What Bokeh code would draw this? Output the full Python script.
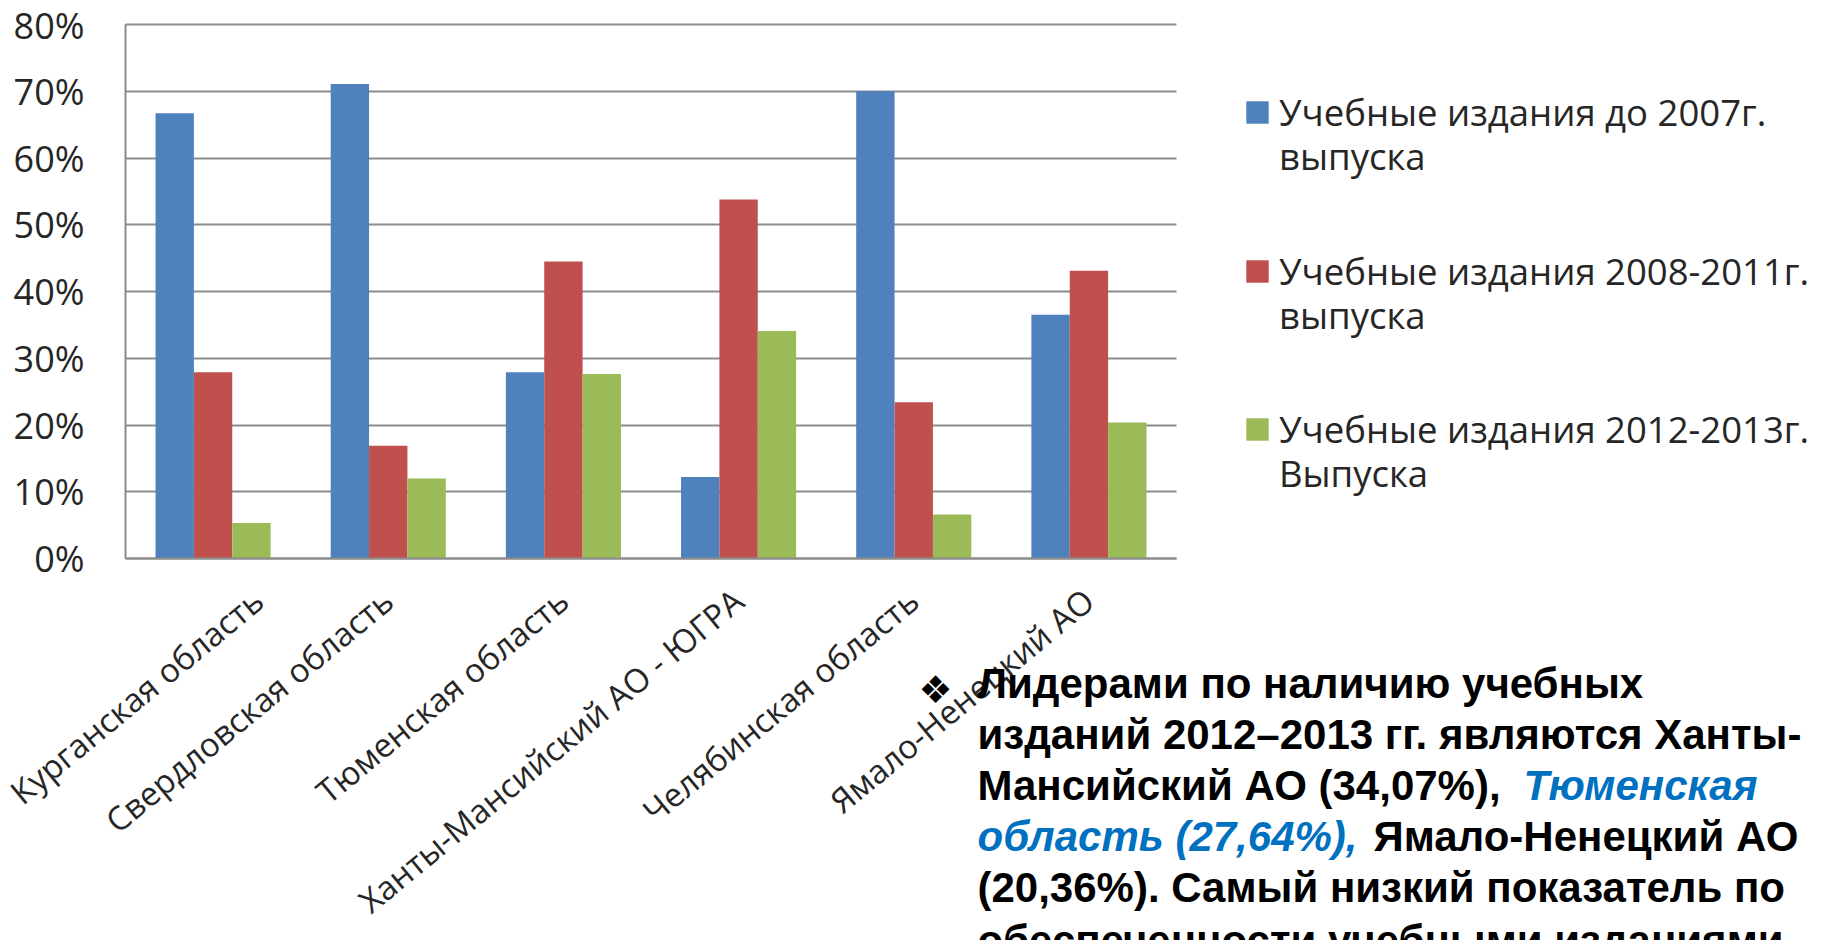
import numpy as np
from bokeh.plotting import figure
from bokeh.models import (Range1d, Legend, LegendItem, Label, FixedTicker,
                          PrintfTickFormatter, LinearAxis, Grid)
from bokeh.embed import file_html
from bokeh.resources import INLINE

# ---------------- data ----------------
regions = ["Курганская область", "Свердловская область", "Тюменская область",
           "Ханты-Мансийский АО - ЮГРА", "Челябинская область", "Ямало-Ненецкий АО"]
before_2007 = [66.7, 71.1, 27.9, 12.2, 70.0, 36.5]
years_2008_2011 = [27.9, 16.9, 44.5, 53.8, 23.4, 43.1]
years_2012_2013 = [5.3, 12.0, 27.64, 34.07, 6.6, 20.36]
series_first_line = ["Учебные издания до 2007г.",
                     "Учебные издания 2008-2011г.",
                     "Учебные издания 2012-2013г."]
series_second_line = ["выпуска", "выпуска", "Выпуска"]
y_ticks = [0, 10, 20, 30, 40, 50, 60, 70, 80]

# ---------------- styles / layout ----------------
colors = ["#4F81BD", "#C0504D", "#9BBB59"]
GRID = "#8C8C8C"
TXT = "#262626"
FONT = "Open Sans"
BAR_W = 0.219

W, H = 1816, 940
CL, CR, CT, CB = 125, 1176, 24, 558   # chart area (page px)
FT = 0                                 # frame top (page px)
FL, FR, FB = 0, W, H                   # frame left / right / bottom (page px)
n = len(regions)
cat_px = (CR - CL) / n
pct_px = (CB - CT) / 80.0
x_start = -(CL - FL) / cat_px
x_end = (FR - CL) / cat_px
y_start = -(FB - CB) / pct_px
y_end = 80 + (CT - FT) / pct_px

p = figure(width=W, height=H, x_range=Range1d(x_start, x_end), y_range=Range1d(y_start, y_end),
           x_axis_location=None, y_axis_location=None,
           output_backend="svg", toolbar_location=None,
           min_border_left=0, min_border_right=0,
           min_border_top=FT, min_border_bottom=0)
p.outline_line_color = None
p.background_fill_color = "white"
# drop the automatic grids
p.center = [c for c in p.center if not isinstance(c, Grid)]

centers = np.arange(n) + 0.5
renderers = []
for k, (vals, col) in enumerate(zip([before_2007, years_2008_2011, years_2012_2013], colors)):
    r = p.vbar(x=centers + (k - 1) * BAR_W, top=vals, bottom=0, width=BAR_W,
               fill_color=col, line_color=None)
    renderers.append(r)

# y axis (fixed at the first category edge)
yax = LinearAxis(fixed_location=0, bounds=(0, 80), ticker=FixedTicker(ticks=y_ticks),
                 formatter=PrintfTickFormatter(format="%d%%"))
# x axis (fixed at 0 %)
xax = LinearAxis(fixed_location=0, bounds=(0, n), ticker=FixedTicker(ticks=list(centers)),
                 major_label_overrides={float(c): r for c, r in zip(centers, regions)})
for ax in (xax, yax):
    ax.axis_line_color = GRID
    ax.axis_line_width = 2
    ax.major_tick_line_color = None
    ax.minor_tick_line_color = None
    ax.major_tick_out = 0
    ax.major_tick_in = 0
    ax.minor_tick_out = 0
    ax.major_label_text_font = FONT
    ax.major_label_text_color = TXT
yax.major_label_text_font_size = "36px"
yax.major_label_standoff = 41
xax.major_label_text_font_size = "33px"
xax.major_label_orientation = 0.69
xax.major_label_standoff = 37
p.add_layout(yax, "left")
p.add_layout(xax, "below")

grid = Grid(dimension=1, ticker=FixedTicker(ticks=y_ticks), cross_bounds=(0, n),
            grid_line_color=GRID, grid_line_width=2)
p.add_layout(grid)

# legend: one line per legend block; the second text line has no marker
blank = p.vbar(x=[], top=[], width=BAR_W, fill_alpha=0, line_alpha=0)
first_line_y = [112.5, 271, 429.7]
LINE_PITCH = 44
ITEM_H = 49
def add_legend_line(label, renderer, yc):
    lg = Legend(items=[LegendItem(label=label, renderers=[renderer])],
                location=(1243 - FL, FB - (yc + ITEM_H / 2)), orientation="vertical")
    lg.padding = 0
    lg.margin = 0
    lg.border_line_color = None
    lg.background_fill_alpha = 0
    lg.glyph_width = 28
    lg.glyph_height = 28
    lg.label_standoff = 8
    lg.label_text_font = FONT
    lg.label_text_font_size = "36.5px"
    lg.label_text_color = TXT
    lg.inactive_fill_alpha = 0
    p.add_layout(lg)

for r, l1, l2, y1 in zip(renderers, series_first_line, series_second_line, first_line_y):
    add_legend_line(l1, r, y1)
    add_legend_line(l2, blank, y1 + LINE_PITCH)

# body text
BFONT = "Liberation Sans"
BSIZE = "42px"
BLUE = "#0070C0"
def add_text(px, py, txt, color="black", style="bold", font=BFONT, size=BSIZE,
             align="left", baseline="alphabetic"):
    p.add_layout(Label(x=px - FL, y=FB - py, x_units="screen", y_units="screen",
                       text=txt, text_font=font, text_font_size=size,
                       text_font_style=style, text_color=color,
                       text_align=align, text_baseline=baseline))

base = [683, 734, 785, 836, 887, 940]
TX = 977
add_text(935, 689, "❖", font="DejaVu Sans", size="38px", style="normal",
         align="center", baseline="middle")
add_text(TX, base[0], "Лидерами по наличию учебных")
add_text(TX, base[1], "изданий 2012–2013 гг. являются Ханты-")
add_text(TX, base[2], "Мансийский АО (34,07%),")
add_text(1523, base[2], "Тюменская", color=BLUE, style="bold italic")
add_text(TX, base[3], "область (27,64%),", color=BLUE, style="bold italic")
add_text(1373, base[3], "Ямало-Ненецкий АО")
add_text(TX, base[4], "(20,36%). Самый низкий показатель по")
add_text(TX, base[5], "обеспеченности учебными изданиями")

open("out.html", "w").write(file_html(p, INLINE))
